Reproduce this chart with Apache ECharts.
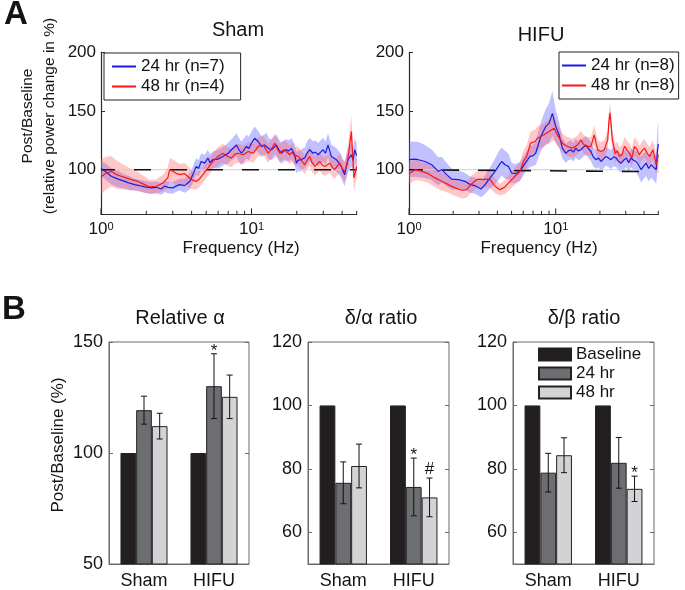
<!DOCTYPE html>
<html>
<head>
<meta charset="utf-8">
<script src="https://cdn.jsdelivr.net/npm/echarts@6/dist/echarts.min.js"></script>
<style>
  html, body { margin: 0; padding: 0; background: #fff; }
  #main { width: 685px; height: 590px; }
</style>
</head>
<body>
<div id="main"></div>
<script>
// Panel A: [frequency (Hz), post/baseline (%), half width of shaded band]
const sham24 = [
  [1.0, 101, 6], [1.08, 98, 7], [1.17, 94.4, 7], [1.3, 92, 7], [1.44, 90, 6], [1.55, 88.5, 6],
  [1.67, 87.3, 5], [1.8, 86.5, 5], [1.95, 85.3, 5], [2.16, 84.5, 5], [2.33, 85, 5], [2.51, 83.6, 5],
  [2.65, 86, 5], [2.78, 85, 5], [3.0, 84.5, 5], [3.15, 86, 5], [3.33, 87.3, 5], [3.59, 86.4, 6],
  [3.88, 90, 7], [4.08, 95.8, 7], [4.29, 102.8, 7], [4.45, 101, 7], [4.63, 107, 7], [4.88, 105.6, 7],
  [5.13, 110, 7], [5.3, 106, 7], [5.53, 108.5, 7], [5.98, 109, 8], [6.45, 111.3, 8], [6.65, 112.7, 8],
  [7.0, 114, 9], [7.36, 117, 9], [7.95, 121, 10], [8.25, 117, 10], [8.58, 114, 10], [9.26, 119.8, 10],
  [9.6, 118, 10], [10.0, 122.6, 10], [10.5, 126.8, 10], [11.07, 124, 9], [11.65, 119.8, 9], [12.2, 121, 9],
  [12.57, 122.6, 9], [13.0, 118, 9], [13.57, 117, 9], [14.1, 119, 9], [14.64, 121, 9], [15.2, 117, 9],
  [15.81, 114, 9], [16.4, 116, 9], [17.06, 117, 9], [17.7, 116, 9], [18.42, 118, 9], [19.38, 112.7, 9],
  [19.88, 105.6, 9], [20.4, 108, 9], [20.92, 107, 9], [21.7, 109, 9], [22.58, 110, 9], [23.4, 114, 10],
  [24.37, 117, 10], [25.64, 114, 10], [26.6, 115, 10], [27.68, 112.7, 10], [28.8, 115, 10], [29.88, 117, 10],
  [31.0, 114, 10], [32.25, 121, 10], [33.1, 116, 10], [33.94, 111.3, 10], [35.2, 110, 10], [36.6, 108.5, 10],
  [38.0, 106, 10], [39.5, 102.8, 10], [40.5, 99, 10], [41.6, 95.8, 10], [42.7, 103, 10], [43.8, 108.5, 10],
  [45.0, 110, 10], [46.1, 112.7, 10], [47.3, 108, 10], [48.5, 117, 10], [50, 112, 10]
];
const sham48 = [
  [1.0, 94, 15], [1.08, 97, 14], [1.17, 98.6, 13], [1.26, 96, 12], [1.36, 94.4, 11], [1.47, 93, 10],
  [1.59, 91.5, 9], [1.76, 90, 8], [1.95, 87.3, 7], [2.1, 85.3, 6], [2.33, 85.9, 6], [2.58, 88.7, 7],
  [2.78, 93, 9], [2.86, 100, 10], [3.0, 98.6, 10], [3.15, 97, 10], [3.33, 95.8, 9], [3.59, 96.6, 9],
  [3.8, 94, 9], [3.98, 91.5, 8], [4.29, 90, 7], [4.5, 92, 7], [4.75, 95.8, 7], [5.13, 101.4, 7],
  [5.53, 107, 7], [5.98, 111.3, 8], [6.45, 114, 8], [6.65, 112.7, 8], [7.0, 111, 8], [7.36, 110, 8],
  [7.75, 113, 8], [8.15, 114, 8], [8.8, 112.7, 8], [9.5, 115.5, 8], [10.25, 114, 8], [10.7, 117, 8],
  [11.07, 119.8, 8], [11.95, 121, 8], [12.89, 114, 8], [13.6, 118, 8], [14.28, 122.6, 8], [14.8, 118, 8],
  [15.41, 114, 8], [16.0, 116, 8], [16.63, 117, 8], [17.95, 112.7, 8], [18.6, 115, 8], [19.38, 111.3, 8],
  [20.1, 112, 8], [20.92, 110, 8], [21.7, 107, 8], [22.58, 104.2, 8], [23.4, 108, 8], [24.37, 111.3, 8],
  [25.3, 106, 8], [26.3, 102.8, 8], [27.3, 105, 8], [28.4, 107, 8], [29.5, 104, 8], [30.6, 102.8, 8],
  [31.8, 104, 8], [33.08, 105.6, 8], [34.4, 102, 8], [35.7, 100, 8], [37.1, 103, 8], [38.5, 105.6, 8],
  [40.0, 101, 8], [41.6, 98.6, 9], [43.0, 104, 10], [44.2, 114, 12], [45.2, 124, 13], [46.1, 132.5, 14],
  [47.0, 112, 12], [48.0, 93, 12], [49.0, 98, 10], [50, 102.8, 10]
];
const hifu24 = [
  [1.0, 108.5, 15], [1.08, 109, 15], [1.158, 108.5, 15], [1.285, 107, 14], [1.427, 104.2, 13], [1.585, 98.6, 12],
  [1.67, 100, 11], [1.806, 95.8, 10], [1.954, 92, 9], [2.17, 91.5, 8], [2.41, 90.1, 7], [2.61, 87.3, 7],
  [2.82, 86.4, 7], [3.1, 83.6, 7], [3.3, 87.3, 8], [3.57, 93, 9], [3.86, 98.6, 11], [4.06, 102.8, 12],
  [4.28, 107, 12], [4.51, 104.2, 12], [4.76, 102.8, 11], [5.01, 97.2, 9], [5.28, 96.6, 8], [5.71, 98.6, 8],
  [6.18, 105.6, 8], [6.68, 111.3, 9], [7.0, 112, 9], [7.3, 114, 10], [7.9, 128, 12], [8.54, 136.7, 15],
  [9.0, 139.5, 17], [9.49, 148, 19], [10.0, 136.7, 14], [10.54, 129.7, 11], [11.1, 118.4, 9], [11.71, 114, 8],
  [12.2, 116, 8], [12.67, 117, 8], [13.2, 115, 8], [13.7, 118.4, 8], [14.25, 116, 8], [14.83, 117, 8],
  [15.4, 119, 8], [16.05, 121, 8], [16.7, 118, 8], [17.37, 115.5, 8], [18.0, 111, 8], [18.8, 108.5, 8],
  [19.5, 110, 8], [20.33, 107, 8], [21.1, 109, 8], [22.0, 111.3, 8], [22.9, 110, 8], [23.8, 108.5, 8],
  [24.8, 111, 8], [25.8, 110, 8], [26.8, 107, 8], [27.9, 105.6, 8], [29.0, 108, 8], [30.2, 110, 8],
  [31.4, 106, 8], [32.6, 110, 8], [33.9, 108, 8], [35.3, 107, 9], [36.7, 104, 10], [38.2, 100, 11],
  [39.7, 103, 11], [41.3, 105.6, 11], [43.0, 101, 11], [44.7, 104.2, 11], [46.5, 102, 11], [48.4, 100, 12],
  [49.3, 116, 18], [50, 122, 20]
];
const hifu48 = [
  [1.0, 96.6, 9], [1.1, 100, 9], [1.22, 98.6, 8], [1.354, 96.6, 8], [1.504, 93, 8], [1.67, 90.1, 8],
  [1.854, 87.3, 7], [2.06, 84.5, 7], [2.286, 82.5, 7], [2.47, 83, 7], [2.675, 88.1, 7], [2.89, 91.5, 7],
  [3.05, 92, 7], [3.21, 91.5, 7], [3.4, 92, 7], [3.57, 91.5, 7], [3.86, 85.9, 6], [4.17, 83, 5],
  [4.51, 85.3, 6], [4.88, 90.1, 7], [5.28, 94.4, 7], [5.71, 98.6, 8], [6.02, 107, 9], [6.34, 111.3, 10],
  [6.74, 122.6, 10], [7.23, 124, 10], [7.49, 126.8, 10], [8.32, 129.7, 10], [9.0, 132.5, 10], [9.74, 135.3, 10],
  [10.26, 129.7, 9], [11.1, 122.6, 8], [12.0, 119.8, 8], [13.0, 118.4, 8], [14.07, 121, 8], [14.83, 125.4, 8],
  [15.4, 122, 8], [16.05, 119.8, 8], [17.37, 119.8, 8], [18.3, 129.7, 8], [19.3, 117, 8], [20.33, 115.5, 8],
  [21.4, 117, 8], [22.6, 125.4, 8], [23.0, 140, 9], [23.4, 148.5, 9], [23.8, 140, 9], [24.3, 125.4, 8],
  [25.4, 114, 8], [26.3, 116, 8], [27.2, 111.3, 8], [28.3, 113, 8], [29.4, 119.8, 8], [30.6, 117, 8],
  [31.8, 114, 8], [33.0, 110, 8], [34.4, 119.8, 8], [35.8, 117, 8], [37.2, 112.7, 8], [38.7, 116, 8],
  [40.3, 118.4, 8], [42.0, 114, 8], [43.6, 111.3, 8], [45.9, 117, 8], [47.0, 112, 9], [48.4, 104.2, 9],
  [50, 112.7, 9]
];
const refLevel = 100;
const hifuDashEnd = 98.3;
const freqRange = [1, 50];
const powerRange = [62, 200];
const powerTicks = [100, 150, 200];
const freqTicks = [1, 2, 3, 4, 5, 6, 7, 8, 9, 10, 20, 30, 40, 50];

// Panel B: group means and error bars (SEM)
const groups = ['Sham', 'HIFU'];
const barNames = ['Baseline', '24 hr', '48 hr'];
const baseline = [100, 100];
const relAlpha24 = [119.3, 130.1];
const relAlpha48 = [112.1, 125.3];
const relAlphaSem24 = [6.3, 14.6];
const relAlphaSem48 = [5.8, 9.8];
const relAlphaMarks24 = ['', '*'];
const relAlphaMarks48 = ['', ''];
const dAlpha24 = [75.6, 74.3];
const dAlpha48 = [80.9, 71.0];
const dAlphaSem24 = [6.6, 9.1];
const dAlphaSem48 = [6.9, 6.1];
const dAlphaMarks24 = ['', '*'];
const dAlphaMarks48 = ['', '#'];
const dBeta24 = [78.8, 81.9];
const dBeta48 = [84.3, 73.7];
const dBetaSem24 = [6.1, 8.0];
const dBetaSem48 = [5.5, 4.0];
const dBetaMarks24 = ['', ''];
const dBetaMarks48 = ['', '*'];
const relTicks = [50, 100, 150];
const ratioTicks = [60, 80, 100, 120];

const FONT = 'Liberation Sans, Arial, Helvetica, sans-serif';
const INK = '#141414';
const BLUE = '#1a1ae6';
const RED = '#ff1414';
const BAR_COLORS = ['#231f20', '#6d6e71', '#d1d3d4'];
const BAR_FRAC = 0.224;

const chart = echarts.init(document.getElementById('main'), null, { renderer: 'canvas' });

const grid = [
  { left: 101, top: 52.3, width: 255.7, height: 162 },
  { left: 409, top: 52.3, width: 249.3, height: 162 },
  { left: 109, top: 342, width: 140, height: 222, show: true, borderColor: '#6a6a6a', borderWidth: 1 },
  { left: 308, top: 342, width: 141, height: 222, show: true, borderColor: '#6a6a6a', borderWidth: 1 },
  { left: 513, top: 342, width: 141, height: 222, show: true, borderColor: '#6a6a6a', borderWidth: 1 }
];

function isDecade(v) {
  const e = Math.log10(v);
  return Math.abs(e - Math.round(e)) < 1e-6;
}

const logAxis = (gi) => ({
  type: 'log', logBase: 10, gridIndex: gi, min: freqRange[0], max: freqRange[1], interval: 1,
  axisLine: { show: true, onZero: false, lineStyle: { color: '#2a2a2a', width: 1.2 } },
  axisTick: { show: false },
  splitLine: { show: false },
  axisLabel: {
    margin: 7, color: INK, fontSize: 17, fontFamily: FONT, showMaxLabel: false,
    formatter: (v) => isDecade(v) ? '10{sup|' + Math.round(Math.log10(v)) + '}' : '',
    rich: { sup: { fontSize: 11, fontFamily: FONT, color: INK, verticalAlign: 'top', lineHeight: 12 } }
  }
});

const powerAxis = (gi) => ({
  type: 'value', gridIndex: gi, min: powerRange[0], max: powerRange[1],
  axisLine: { show: true, lineStyle: { color: '#2a2a2a', width: 1.2 } },
  axisTick: { show: true, inside: true, length: 4, customValues: powerTicks, lineStyle: { color: '#2a2a2a' } },
  axisLabel: { customValues: powerTicks, margin: 5, color: INK, fontSize: 17, fontFamily: FONT },
  splitLine: { show: false }
});

const catAxis = (gi) => ({
  type: 'category', gridIndex: gi, data: groups,
  axisLine: { show: true, lineStyle: { color: '#6a6a6a' } },
  axisTick: { show: true, inside: true, alignWithLabel: true, length: 4, lineStyle: { color: '#6a6a6a' } },
  axisLabel: { margin: 8, color: INK, fontSize: 18, fontFamily: FONT }
});

const barAxis = (gi, min, max, ticks, right) => ({
  type: 'value', gridIndex: gi, min: min, max: max, position: right ? 'right' : 'left',
  axisLine: { show: !right, lineStyle: { color: '#6a6a6a' } },
  axisTick: { show: true, inside: true, length: 4, customValues: ticks, lineStyle: { color: '#6a6a6a' } },
  axisLabel: { show: !right, customValues: ticks, margin: 6, color: INK, fontSize: 18, fontFamily: FONT },
  splitLine: { show: false }
});

const xAxis = [logAxis(0), logAxis(1), catAxis(2), catAxis(3), catAxis(4)];
const yAxis = [
  powerAxis(0), powerAxis(1),
  barAxis(2, 50, 150, relTicks, false), barAxis(3, 50, 120, ratioTicks, false), barAxis(4, 50, 120, ratioTicks, false),
  barAxis(2, 50, 150, relTicks, true), barAxis(3, 50, 120, ratioTicks, true), barAxis(4, 50, 120, ratioTicks, true)
];

const series = [];

function bandSeries(data, ai, color) {
  return {
    type: 'custom', xAxisIndex: ai, yAxisIndex: ai, z: 1, silent: true, clip: true,
    data: [[data[0][0], data[0][1]]],
    renderItem: (params, api) => {
      const up = data.map(d => api.coord([d[0], d[1] + d[2]]));
      const lo = data.map(d => api.coord([d[0], d[1] - d[2]])).reverse();
      return { type: 'polygon', shape: { points: up.concat(lo) }, style: { fill: color } };
    }
  };
}

function lineSeries(name, data, ai, color) {
  return {
    type: 'line', name: name, xAxisIndex: ai, yAxisIndex: ai, z: 4,
    data: data.map(d => [d[0], d[1]]),
    showSymbol: false, symbol: 'none',
    lineStyle: { color: color, width: 1.2 }, itemStyle: { color: color }
  };
}

function refSeries(ai, endLevel) {
  return [
    {
      type: 'line', xAxisIndex: ai, yAxisIndex: ai, z: 2, silent: true, symbol: 'none',
      data: [[freqRange[0], refLevel], [freqRange[1], refLevel]],
      lineStyle: { color: '#cfcfcf', width: 1 }
    },
    {
      type: 'line', xAxisIndex: ai, yAxisIndex: ai, z: 3, silent: true, symbol: 'none',
      data: [[freqRange[0], refLevel], [freqRange[1], endLevel]],
      lineStyle: { color: '#111', width: 1.6, type: [17, 19], dashOffset: 3 }
    }
  ];
}

function tickSeries(ai) {
  return {
    type: 'custom', xAxisIndex: ai, yAxisIndex: ai, z: 5, silent: true,
    data: freqTicks.map(f => [f, powerRange[0]]),
    renderItem: (params, api) => {
      const f = api.value(0);
      const p = api.coord([f, api.value(1)]);
      const len = isDecade(f) ? 6 : 3.5;
      return { type: 'line', shape: { x1: p[0], y1: p[1], x2: p[0], y2: p[1] - len }, style: { stroke: '#2a2a2a', lineWidth: 1 } };
    }
  };
}

[[sham24, sham48, 0, ['24 hr (n=7)', '48 hr (n=4)'], refLevel],
 [hifu24, hifu48, 1, ['24 hr (n=8)', '48 hr (n=8)'], hifuDashEnd]].forEach(([b, r, ai, names, endLevel]) => {
  series.push(bandSeries(b, ai, 'rgba(100,100,255,0.4)'));
  series.push(bandSeries(r, ai, 'rgba(255,100,100,0.36)'));
  refSeries(ai, endLevel).forEach(s => series.push(s));
  series.push(lineSeries(names[0], b, ai, BLUE));
  series.push(lineSeries(names[1], r, ai, RED));
  series.push(tickSeries(ai));
});

function errSeries(ai, yi, k, means, sems, marks) {
  return {
    type: 'custom', xAxisIndex: ai, yAxisIndex: yi, z: 6, silent: true,
    data: means.map((m, i) => [i, m, sems[i]]),
    renderItem: (params, api) => {
      const ci = api.value(0), m = api.value(1), s = api.value(2);
      const c = api.coord([ci, m]);
      const band = api.size([1, 0])[0];
      const x = c[0] + (k - 1) * band * BAR_FRAC;
      const top = api.coord([ci, m + s])[1];
      const bot = api.coord([ci, m - s])[1];
      const st = { stroke: '#111', lineWidth: 1 };
      const children = [
        { type: 'line', shape: { x1: x, y1: top, x2: x, y2: bot }, style: st },
        { type: 'line', shape: { x1: x - 3, y1: top, x2: x + 3, y2: top }, style: st },
        { type: 'line', shape: { x1: x - 3, y1: bot, x2: x + 3, y2: bot }, style: st }
      ];
      const mark = marks[params.dataIndex];
      if (mark) {
        children.push({
          type: 'text', x: x, y: top + (mark === '*' ? 6 : 0),
          style: { text: mark, fill: INK, fontSize: 17, fontFamily: FONT, align: 'center', verticalAlign: 'bottom', textAlign: 'center', textVerticalAlign: 'bottom' }
        });
      }
      return { type: 'group', children: children };
    }
  };
}

[
  [2, [baseline, relAlpha24, relAlpha48], [relAlphaSem24, relAlphaSem48], [relAlphaMarks24, relAlphaMarks48]],
  [3, [baseline, dAlpha24, dAlpha48], [dAlphaSem24, dAlphaSem48], [dAlphaMarks24, dAlphaMarks48]],
  [4, [baseline, dBeta24, dBeta48], [dBetaSem24, dBetaSem48], [dBetaMarks24, dBetaMarks48]]
].forEach(([ai, vals, sems, marks]) => {
  vals.forEach((v, k) => {
    series.push({
      type: 'bar', name: barNames[k], xAxisIndex: ai, yAxisIndex: ai, z: 3,
      data: v, barWidth: (BAR_FRAC * 100) + '%', barGap: '0%',
      itemStyle: { color: BAR_COLORS[k], borderColor: '#222', borderWidth: 1 }
    });
  });
  series.push(errSeries(ai, ai, 1, vals[1], sems[0], marks[0]));
  series.push(errSeries(ai, ai, 2, vals[2], sems[1], marks[1]));
});

const txt = (text, x, y, size, extra) => Object.assign({
  type: 'text', x: x, y: y, silent: true,
  style: Object.assign({
    text: text, fill: INK, fontSize: size, fontFamily: FONT,
    align: 'center', verticalAlign: 'middle', textAlign: 'center', textVerticalAlign: 'middle'
  }, (extra && extra.style) || {})
}, extra && extra.el ? extra.el : {});

const graphic = [
  txt('A', 16, 15, 33, { style: { fontWeight: 'bold' } }),
  txt('B', 14, 310, 33, { style: { fontWeight: 'bold' } }),
  txt('Sham', 238, 30, 20),
  txt('HIFU', 541, 35, 20),
  txt('Frequency (Hz)', 241, 248, 17),
  txt('Frequency (Hz)', 539, 248, 17),
  txt('Post/Baseline', 28, 116, 15.5, { el: { rotation: Math.PI / 2 } }),
  txt('(relative power change in %)', 50, 116, 15.5, { el: { rotation: Math.PI / 2 } }),
  txt('Relative α', 180, 318, 20),
  txt('δ/α ratio', 381, 318, 20),
  txt('δ/β ratio', 584, 318, 20),
  txt('Post/Baseline (%)', 58, 445, 17, { el: { rotation: Math.PI / 2 } })
];

const legend = [
  {
    left: 104, top: 53, orient: 'vertical', selectedMode: false,
    data: ['24 hr (n=7)', '48 hr (n=4)'], icon: 'rect', itemWidth: 24, itemHeight: 2, itemGap: 3,
    padding: [5, 16, 5, 8], borderColor: '#222', borderWidth: 1, backgroundColor: '#fff',
    textStyle: { fontSize: 17, lineHeight: 17, color: INK, fontFamily: FONT }
  },
  {
    left: 559, top: 52, orient: 'vertical', selectedMode: false,
    data: ['24 hr (n=8)', '48 hr (n=8)'], icon: 'rect', itemWidth: 24, itemHeight: 2, itemGap: 3,
    padding: [5, 4, 5, 3], borderColor: '#222', borderWidth: 1, backgroundColor: '#fff',
    textStyle: { fontSize: 17, lineHeight: 17, color: INK, fontFamily: FONT }
  },
  {
    left: 538, top: 346, orient: 'vertical', selectedMode: false,
    data: barNames, icon: 'rect', itemWidth: 32, itemHeight: 12, itemGap: 2, padding: 0,
    textStyle: { fontSize: 17, lineHeight: 15, color: INK, fontFamily: FONT }
  }
];

chart.setOption({
  animation: false,
  backgroundColor: '#fff',
  textStyle: { fontFamily: FONT },
  grid: grid,
  xAxis: xAxis,
  yAxis: yAxis,
  legend: legend,
  graphic: graphic,
  series: series
});
</script>
</body>
</html>
